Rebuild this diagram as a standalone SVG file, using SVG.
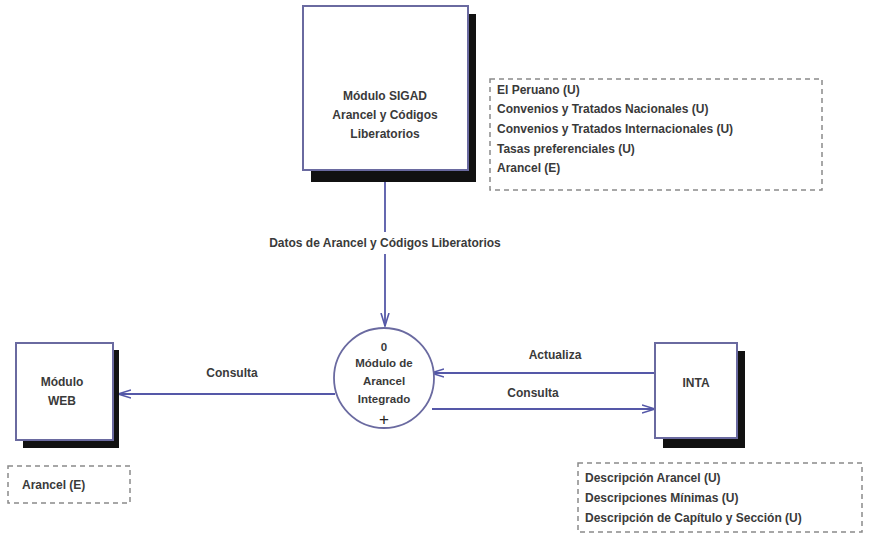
<svg xmlns="http://www.w3.org/2000/svg" width="870" height="539" viewBox="0 0 870 539">
<style>
.t{font-family:"Liberation Sans",Arial,sans-serif;font-size:12px;font-weight:bold;fill:#3a3a3a;}
.s{font-size:11.5px;}
.c{text-anchor:middle;}
.box{fill:#fff;stroke:#6a6aa0;stroke-width:2;}
.sh{fill:#111;}
.dash{fill:none;stroke:#8a8a8a;stroke-width:1.5;stroke-dasharray:5,4;}
.ln{fill:none;stroke:#5558a8;stroke-width:1.8;}
</style>
<defs>
<marker id="ar" markerWidth="14" markerHeight="10" refX="13" refY="5" orient="auto" markerUnits="userSpaceOnUse">
<path d="M0,1 L13,5 L0,9" fill="none" stroke="#5558a8" stroke-width="1.6"/>
</marker>
</defs>
<rect width="870" height="539" fill="#fff"/>

<g id="connectors">
<line class="ln" x1="385" y1="182" x2="385" y2="232"/>
<line class="ln" x1="385" y1="254" x2="385" y2="326" marker-end="url(#ar)"/>
<text class="t c" x="385" y="247">Datos de Arancel y Códigos Liberatorios</text>
<line class="ln" x1="335" y1="394" x2="118" y2="394" marker-end="url(#ar)"/>
<text class="t c" x="232" y="377">Consulta</text>
<line class="ln" x1="655" y1="373" x2="431" y2="373" marker-end="url(#ar)"/>
<text class="t c" x="555" y="359">Actualiza</text>
<line class="ln" x1="432" y1="409" x2="655" y2="409" marker-end="url(#ar)"/>
<text class="t c" x="533" y="397">Consulta</text>
</g>

<g id="sigad">
<rect class="sh" x="311" y="14" width="165" height="168"/>
<rect class="box" x="303" y="6" width="165" height="164"/>
<text class="t c" x="385" y="100">Módulo SIGAD</text>
<text class="t c" x="385" y="119">Arancel y Códigos</text>
<text class="t c" x="385" y="138">Liberatorios</text>
</g>

<g id="sigad-store">
<rect class="dash" x="490" y="79" width="332" height="111"/>
<text class="t" x="497" y="94">El Peruano (U)</text>
<text class="t" x="497" y="113">Convenios y Tratados Nacionales (U)</text>
<text class="t" x="497" y="133">Convenios y Tratados Internacionales (U)</text>
<text class="t" x="497" y="153">Tasas preferenciales (U)</text>
<text class="t" x="497" y="172">Arancel (E)</text>
</g>

<g id="proceso">
<circle cx="384" cy="378" r="50" fill="#fff" stroke="#6a6aa0" stroke-width="1.8"/>
<text class="t s c" x="384" y="351">0</text>
<text class="t s c" x="384" y="367">Módulo de</text>
<text class="t s c" x="384" y="385">Arancel</text>
<text class="t s c" x="384" y="403">Integrado</text>
<text class="c" x="384" y="425" style="font-family:'Liberation Sans',Arial,sans-serif;font-size:17px;fill:#222">+</text>
</g>

<g id="web">
<rect class="sh" x="23" y="350" width="96" height="98"/>
<rect class="box" x="16" y="343" width="97" height="97"/>
<text class="t c" x="62" y="386">Módulo</text>
<text class="t c" x="62" y="405">WEB</text>
</g>

<g id="web-store">
<rect class="dash" x="8" y="466" width="122" height="37"/>
<text class="t" x="22" y="489">Arancel (E)</text>
</g>

<g id="inta">
<rect class="sh" x="663" y="351" width="82" height="97"/>
<rect class="box" x="655" y="343" width="82" height="95"/>
<text class="t c" x="696" y="387">INTA</text>
</g>

<g id="inta-store">
<rect class="dash" x="578" y="463" width="284" height="69"/>
<text class="t" x="585" y="482">Descripción Arancel (U)</text>
<text class="t" x="585" y="502">Descripciones Mínimas (U)</text>
<text class="t" x="585" y="522">Descripción de Capítulo y Sección (U)</text>
</g>
</svg>
